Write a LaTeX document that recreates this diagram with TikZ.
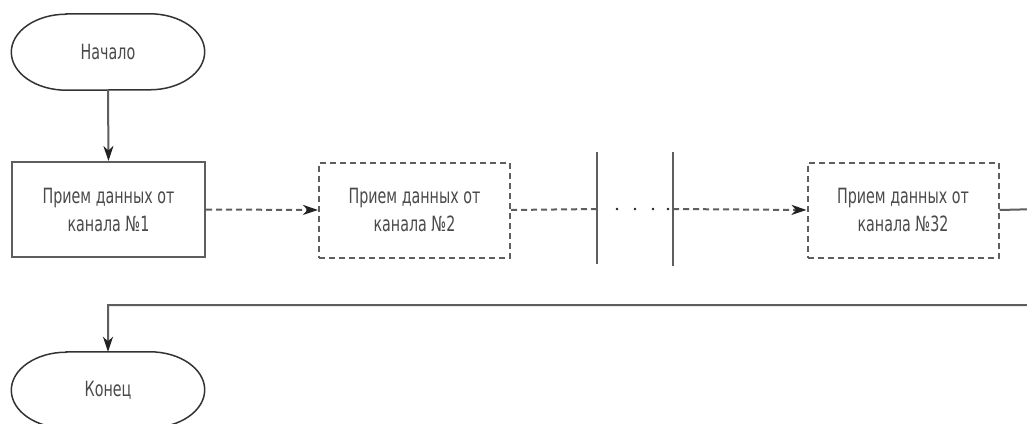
\documentclass[tikz,border=0pt]{standalone}
\usepackage{fontspec}
\setmainfont[FakeStretch=0.68]{DejaVu Sans}
\usetikzlibrary{arrows.meta}
\definecolor{lc}{HTML}{5E5E5E}
\definecolor{tc}{HTML}{4A4A4A}
\definecolor{ec}{HTML}{333333}
\definecolor{ac}{HTML}{222222}
\begin{document}
\begin{tikzpicture}[x=1pt,y=-1pt,
  txt/.style={text=tc,font=\fontsize{21}{28}\selectfont,align=center},
  term/.style={txt,minimum width=193pt,minimum height=76pt,inner sep=0pt},
  termline/.style={draw=ec,line width=1.5pt},
  box/.style={txt,draw=lc,line width=2pt,minimum width=193pt,minimum height=95pt,inner sep=0pt},
  dbox/.style={box,minimum width=191pt,dash pattern=on 6pt off 4pt},
  conn/.style={draw=lc,line width=2pt},
  dconn/.style={conn,dash pattern=on 6pt off 4pt},
  arr/.style={-{Stealth[length=15pt,width=10pt,inset=4.5pt,color=ac]}}]
\useasboundingbox (0,0) rectangle (1027,423);
\clip (0,0) rectangle (1027,423);
\fill[white] (0,0) rectangle (1027,423);

% terminals
\node[term] (start) at (108,52) {Начало};
\draw[termline] ([xshift=55pt]start.north west) -- ([xshift=-55pt]start.north east)
  arc[start angle=90,end angle=-90,x radius=55pt,y radius=38pt]
  -- ([xshift=55pt]start.south west)
  arc[start angle=270,end angle=90,x radius=55pt,y radius=38pt] -- cycle;

\node[term] (end) at (108,390) {Конец};
\draw[termline] ([xshift=55pt]end.north west) -- ([xshift=-55pt]end.north east)
  arc[start angle=90,end angle=-90,x radius=55pt,y radius=38pt]
  -- ([xshift=55pt]end.south west)
  arc[start angle=270,end angle=90,x radius=55pt,y radius=38pt] -- cycle;

% process boxes
\node[box] (b1) at (108.5,209.5) {Прием данных от\\канала №1};
\node[dbox] (b2) at (414.5,210) {Прием данных от\\канала №2};
\node[dbox] (b32) at (903,210) {Прием данных от\\канала №32};

% break bars
\coordinate (bar1t) at (597,152);
\coordinate (bar1b) at (597,264);
\coordinate (bar2t) at (673,152);
\coordinate (bar2b) at (673,266);
\coordinate (bar1m) at (597,209);
\coordinate (bar2m) at (673,209);
\draw[conn] (bar1t) -- (bar1b);
\draw[conn] (bar2t) -- (bar2b);
\foreach \x in {617,635,653,668} \fill[ac] (\x,209) circle (1.4pt);

% connectors
\draw[conn,arr] (start.south) -- (b1.north);
\draw[dconn,arr] (b1.east) -- (b2.west);
\draw[dconn] (b2.east) -- (bar1m);
\draw[dconn,arr] (bar2m) -- (b32.west);
\coordinate (r1) at (1040,209);
\coordinate (r2) at (1040,305);
\coordinate (r3) at (108,305);
\draw[conn,arr] (b32.east) -- (r1) -- (r2) -- (r3) -- (end.north);
\end{tikzpicture}
\end{document}
